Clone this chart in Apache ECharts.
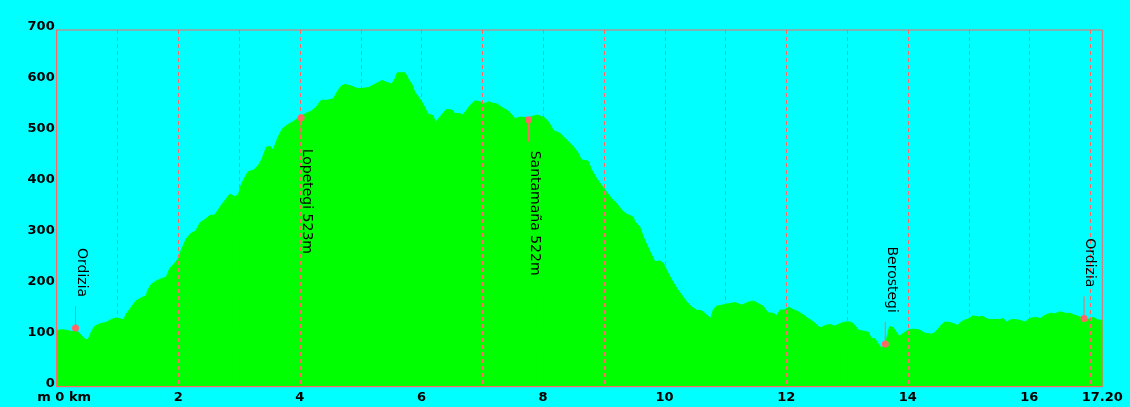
<!DOCTYPE html>
<html>
<head>
<meta charset="utf-8">
<script src="https://cdn.jsdelivr.net/npm/echarts@6/dist/echarts.min.js"></script>
<style>
html,body{margin:0;padding:0;background:#00ffff;}
#chart{width:1130px;height:407px;}
</style>
</head>
<body>
<div id="chart"></div>
<script>
// Elevation profile: distance (km) and elevation (m)
const distKm = [0.00,0.08,0.15,0.25,0.32,0.38,0.44,0.48,0.52,0.56,0.62,0.70,0.81,0.90,0.98,1.05,1.10,1.14,1.22,1.30,1.40,1.47,1.50,1.55,1.63,1.72,1.80,1.86,1.96,2.00,2.05,2.13,2.20,2.29,2.36,2.44,2.52,2.60,2.69,2.77,2.85,2.93,2.99,3.02,3.07,3.15,3.24,3.32,3.37,3.45,3.51,3.56,3.64,3.72,3.81,3.89,3.99,4.11,4.19,4.27,4.35,4.45,4.55,4.62,4.68,4.74,4.85,4.92,4.99,5.13,5.24,5.35,5.43,5.51,5.57,5.60,5.73,5.78,5.84,5.89,5.95,6.00,6.05,6.11,6.19,6.23,6.28,6.33,6.41,6.50,6.55,6.63,6.68,6.72,6.80,6.88,6.96,7.05,7.11,7.18,7.24,7.35,7.43,7.54,7.62,7.76,7.90,8.01,8.09,8.17,8.28,8.39,8.50,8.58,8.63,8.74,8.80,8.88,8.96,9.02,9.13,9.21,9.29,9.37,9.48,9.51,9.59,9.67,9.76,9.84,9.92,9.98,10.03,10.12,10.20,10.28,10.36,10.44,10.53,10.61,10.69,10.76,10.80,10.85,10.94,11.05,11.16,11.27,11.38,11.46,11.54,11.62,11.70,11.79,11.84,11.90,11.98,12.04,12.12,12.20,12.28,12.36,12.45,12.53,12.58,12.64,12.72,12.80,12.89,12.97,13.05,13.10,13.19,13.27,13.35,13.40,13.46,13.51,13.56,13.62,13.66,13.70,13.76,13.81,13.86,13.93,14.00,14.09,14.20,14.28,14.39,14.44,14.50,14.55,14.61,14.69,14.77,14.82,14.88,14.94,15.02,15.07,15.16,15.24,15.32,15.41,15.52,15.57,15.62,15.71,15.82,15.93,16.01,16.09,16.18,16.26,16.34,16.42,16.50,16.59,16.67,16.75,16.83,16.90,16.96,17.05,17.13,17.20];
const elevM = [110,112,111,108,110,104,96,92,93,105,118,123,126,132,135,133,131,142,155,168,175,178,190,200,207,212,215,232,245,252,268,290,300,306,322,328,336,337,353,366,378,373,377,392,405,422,425,435,445,470,472,464,490,507,515,520,529,537,541,549,562,562,565,580,590,593,590,586,585,587,594,601,597,594,605,616,616,605,594,578,569,560,549,535,532,519,526,533,544,543,536,536,533,539,552,561,559,556,559,556,555,546,541,526,529,528,533,529,520,503,497,484,471,458,445,443,425,409,396,386,369,360,347,339,333,324,314,288,265,245,247,242,229,209,193,180,167,157,150,149,141,134,150,158,160,163,165,160,166,168,163,158,145,144,139,150,151,156,151,147,141,134,127,118,116,120,122,119,124,127,127,124,111,109,107,95,94,85,77,78,98,118,116,107,99,105,111,113,111,105,103,106,113,121,127,126,123,120,127,131,134,139,137,138,132,132,132,134,127,132,131,127,134,136,134,140,144,143,147,144,144,140,137,134,132,136,131,130];

// Points of interest
const poiName = ['Ordizia','Lopetegi 523m','Santamaña 522m','Berostegi','Ordizia'];
const poiKm   = [0.31, 4.02, 7.76, 13.63, 16.90];
const poiElev = [115, 528, 524, 84, 134];

// Axis settings
const xMax = 17.2;
const yMin = 0, yMax = 700;
const xGridKm = [1,2,3,4,5,6,7,8,9,10,11,12,13,14,15,16,17];

const profile = distKm.map((d,i)=>[d, elevM[i]]);
const poiData = poiKm.map((d,i)=>[d, poiElev[i], i]);
const gridData = xGridKm.map(d=>[d]);

const RED = '#ff6666';
const labelFont = {fontFamily:'DejaVu Sans', fontWeight:'bold', fontSize:13, color:'#000'};

const chart = echarts.init(document.getElementById('chart'));
chart.setOption({
  backgroundColor:'#00ffff',
  animation:false,
  grid:{left:56.7, right:27.7, top:30, bottom:20.3, show:true, borderColor:RED, borderWidth:1, backgroundColor:'transparent'},
  xAxis:{
    type:'value', min:0, max:xMax, interval:1, z:10,
    axisLine:{show:true, lineStyle:{color:RED, width:1}},
    axisTick:{show:false},
    splitLine:{show:false},
    axisLabel:Object.assign({}, labelFont, {
      margin:4, showMinLabel:true, showMaxLabel:true,
      formatter:function(v){
        if (v === 0) return '{z|m 0 km}';
        if (Math.abs(v - xMax) < 1e-6) return xMax.toFixed(2);
        return (Math.round(v) % 2 === 0) ? String(Math.round(v)) : '';
      },
      rich:{z:Object.assign({}, labelFont, {padding:[0,0,0,15]})}
    })
  },
  yAxis:{
    type:'value', min:yMin, max:yMax, interval:100, z:10,
    axisLine:{show:true, lineStyle:{color:RED, width:1}},
    axisTick:{show:false},
    splitLine:{show:false},
    axisLabel:Object.assign({}, labelFont, {margin:2, verticalAlign:'bottom', lineHeight:6})
  },
  series:[
    {
      type:'line', data:profile, symbol:'none', z:2,
      lineStyle:{color:'#00ff00', width:1},
      areaStyle:{color:'#00ff00', opacity:1},
      silent:true
    },
    {
      type:'custom', data:gridData, z:5, silent:true,
      renderItem:function(params, api){
        const top = api.coord([api.value(0), yMax]);
        const bot = api.coord([api.value(0), yMin]);
        const x = Math.round(top[0]) + 0.5;
        return {type:'line', shape:{x1:x, y1:top[1], x2:x, y2:bot[1]},
                style:{stroke:RED, lineWidth:1, lineDash:[4,3]}};
      }
    },
    {
      type:'custom', data:poiData, z:20, silent:true,
      renderItem:function(params, api){
        const p = api.coord([api.value(0), api.value(1)]);
        const idx = api.value(2);
        const down = api.value(1) > 300;
        const L = 22, gap = 9;
        const y2 = down ? p[1] + L : p[1] - L;
        const ty = down ? y2 + gap : y2 - gap;
        return {
          type:'group',
          children:[
            {type:'line', shape:{x1:p[0], y1:p[1], x2:p[0], y2:y2}, style:{stroke:RED, lineWidth:1}},
            {type:'circle', shape:{cx:p[0], cy:p[1], r:3.5}, style:{fill:RED}},
            {type:'text', x:p[0]-1, y:ty, rotation:-Math.PI/2,
             style:{text:poiName[idx], fill:'#000', font:'14px "DejaVu Sans"', align: down ? 'left' : 'right', verticalAlign:'bottom'}}
          ]
        };
      }
    }
  ]
});
</script>
</body>
</html>
